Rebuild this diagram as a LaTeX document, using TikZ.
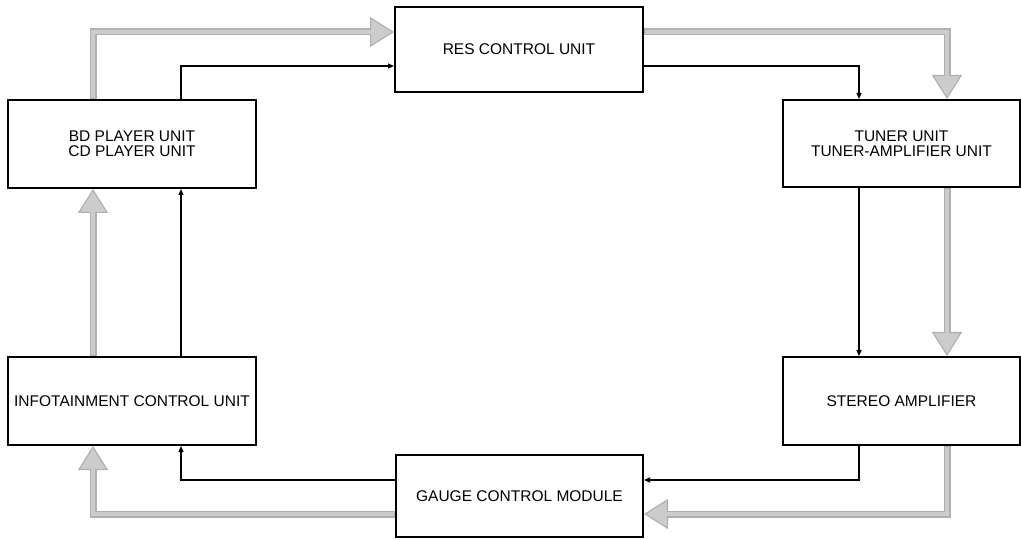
\documentclass[tikz,border=0pt]{standalone}
\usepackage{fontspec}
\setmainfont{Liberation Sans}
\usetikzlibrary{arrows.meta}
\definecolor{lightg}{RGB}{204,204,204}
\definecolor{midg}{RGB}{176,176,176}
\tikzset{
  unit/.style={draw=black, line width=2pt, fill=white, align=center, inner sep=2pt,
    font=\fontsize{15.5pt}{15pt}\selectfont},
  blk/.style={draw=black, line width=1.3pt, -{Triangle[length=6pt,width=5pt]}},
  gout/.style={draw=midg, line width=7pt, line join=miter,
    -{Triangle[length=24pt,width=30pt,line width=1.2pt,fill=lightg]}},
  gin/.style={draw=lightg, line width=4.6pt, line join=miter, shorten >=14pt, shorten <=0.8pt},
}
\begin{document}
\begin{tikzpicture}[x=1pt,y=-1pt]
\useasboundingbox (0,0) rectangle (1021,540);
\node[unit, minimum width=248pt, minimum height=85pt] (res) at (519,49.5) {RES CONTROL UNIT};
\node[unit, minimum width=248pt, minimum height=88pt] (bd) at (132,144) {BD PLAYER UNIT\\CD PLAYER UNIT};
\node[unit, minimum width=237pt, minimum height=87pt] (tuner) at (901.5,143.5) {TUNER UNIT\\TUNER-AMPLIFIER UNIT};
\node[unit, minimum width=237pt, minimum height=88pt] (stereo) at (901.5,401) {STEREO AMPLIFIER};
\node[unit, minimum width=248pt, minimum height=88pt] (info) at (132,401) {INFOTAINMENT CONTROL UNIT};
\node[unit, minimum width=247pt, minimum height=82pt] (gauge) at (519.5,496) {GAUGE CONTROL MODULE};

\coordinate (xL1) at (93,0);
\coordinate (xL2) at (181,0);
\coordinate (xR2) at (859,0);
\coordinate (xR1) at (947,0);
\coordinate (yT1) at (0,32);
\coordinate (yT2) at (0,66);
\coordinate (yB2) at (0,480);
\coordinate (yB1) at (0,514);

% black signal lines
\draw[blk] (bd.north -| xL2) |- (res.west |- yT2);
\draw[blk] (res.east |- yT2) -| (tuner.north -| xR2);
\draw[blk] (tuner.south -| xR2) -- (stereo.north -| xR2);
\draw[blk] (stereo.south -| xR2) |- (gauge.east |- yB2);
\draw[blk] (gauge.west |- yB2) -| (info.south -| xL2);
\draw[blk] (info.north -| xL2) -- (bd.south -| xL2);

% gray flow arrows
\draw[gout] (bd.north -| xL1) |- (res.west |- yT1);
\draw[gin]  (bd.north -| xL1) |- (res.west |- yT1);
\draw[gout] (res.east |- yT1) -| (tuner.north -| xR1);
\draw[gin]  (res.east |- yT1) -| (tuner.north -| xR1);
\draw[gout] (tuner.south -| xR1) -- (stereo.north -| xR1);
\draw[gin]  (tuner.south -| xR1) -- (stereo.north -| xR1);
\draw[gout] (stereo.south -| xR1) |- (gauge.east |- yB1);
\draw[gin]  (stereo.south -| xR1) |- (gauge.east |- yB1);
\draw[gout] (gauge.west |- yB1) -| (info.south -| xL1);
\draw[gin]  (gauge.west |- yB1) -| (info.south -| xL1);
\draw[gout] (info.north -| xL1) -- (bd.south -| xL1);
\draw[gin]  (info.north -| xL1) -- (bd.south -| xL1);
\end{tikzpicture}
\end{document}
